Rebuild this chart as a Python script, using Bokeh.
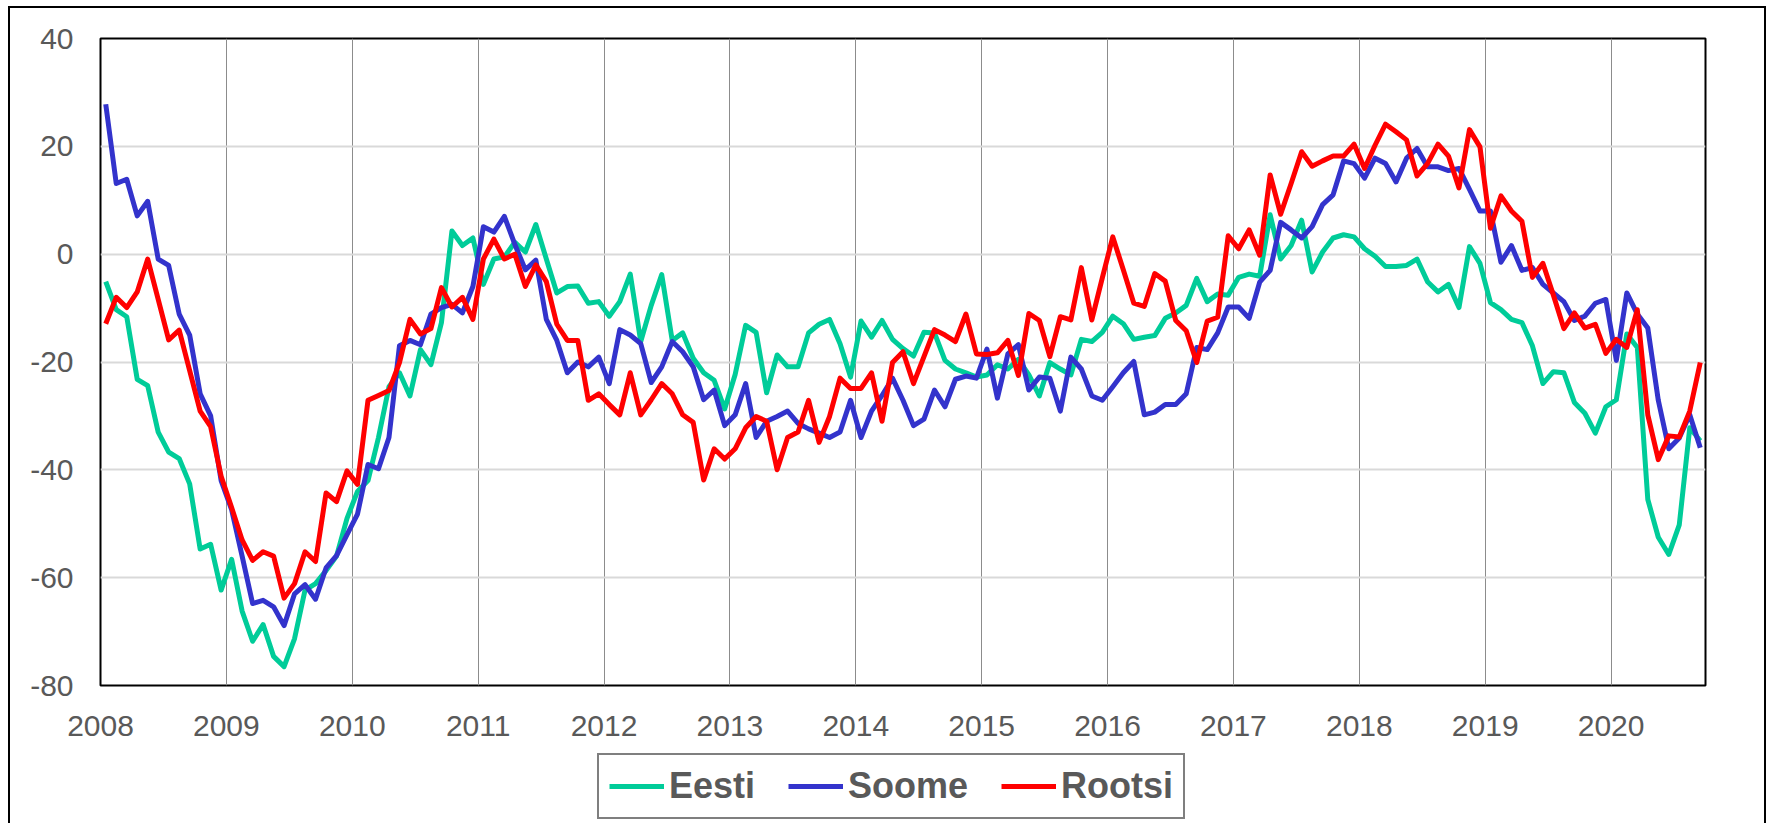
import pandas as pd
from bokeh.plotting import figure
from bokeh.layouts import column
from bokeh.models import Legend, LegendItem, FixedTicker, Range1d, PrintfTickFormatter
from bokeh.embed import file_html
from bokeh.resources import INLINE

months = pd.period_range("2008-01", "2020-09", freq="M")
year_ticks = list(range(2008, 2021))
value_ticks = [-80, -60, -40, -20, 0, 20, 40]
series_names = ["Eesti", "Soome", "Rootsi"]

eesti = [-5.1, -10.3, -11.6, -23.2, -24.4, -33, -36.7, -37.9, -42.6, -54.7, -53.8, -62.3,
         -56.6, -66.2, -71.8, -68.7, -74.6, -76.5, -71.3, -62.3, -61.1, -58.7, -56, -49,
         -44, -42, -34, -24.6, -22, -26.3, -17.7, -20.5, -12.7, 4.3, 1.6, 3,
         -5.6, -0.9, -0.5, 2.2, 0.4, 5.5, -0.9, -7.2, -6, -5.9, -9.1, -8.8,
         -11.5, -8.8, -3.7, -16.2, -9.5, -3.8, -16, -14.6, -19.3, -22, -23.4, -28.7,
         -22.3, -13.2, -14.5, -25.7, -18.7, -20.9, -20.9, -14.6, -13, -12.1, -16.6, -22.8,
         -12.4, -15.4, -12.3, -15.8, -17.5, -18.9, -14.5, -14.6, -19.7, -21.3, -22, -22.8,
         -22.4, -20.5, -21.3, -19.5, -22.4, -26.3, -20.1, -21.3, -22.4, -15.8, -16.2, -14.5,
         -11.5, -12.9, -15.8, -15.4, -15.1, -11.9, -10.9, -9.5, -4.5, -8.8, -7.4, -7.6,
         -4.3, -3.7, -4.1, 7.3, -0.9, 1.6, 6.3, -3.3, 0.4, 3, 3.6, 3.2,
         1, -0.4, -2.3, -2.3, -2.1, -0.9, -5.1, -7, -5.6, -9.9, 1.4, -1.7,
         -9, -10.3, -12.1, -12.7, -17, -24, -21.8, -22, -27.5, -29.5, -33.2, -28.3,
         -27, -14.8, -17.3, -45.5, -52.5, -55.7, -50.2, -32.2, -34.6]

soome = [27.8, 13.1, 13.9, 7.1, 9.8, -0.9, -2.1, -11.1, -15, -25.9, -30, -42,
         -47.4, -56, -64.8, -64.2, -65.4, -68.9, -63, -61.3, -64, -58.2, -55.9, -52,
         -48.2, -39, -39.8, -34, -17, -16, -16.8, -11.1, -9.9, -9.3, -10.9, -6,
         5.1, 4.1, 7, 1.8, -2.9, -1.1, -12.1, -16, -22, -20, -20.9, -19.1,
         -24, -14, -15, -16.6, -23.8, -20.9, -16.2, -18.1, -20.9, -27, -25.2, -31.8,
         -29.8, -24, -34, -31, -30.1, -29.1, -31.4, -32.4, -33.2, -34, -33, -27.1,
         -34, -29.1, -26.2, -23, -27.1, -31.8, -30.6, -25.2, -28.3, -23.2, -22.6, -23,
         -17.6, -26.7, -18.5, -16.8, -25.2, -22.8, -23, -29.1, -19.1, -21.3, -26.3, -27.1,
         -24.6, -22, -19.9, -29.8, -29.3, -27.9, -27.9, -25.9, -17.3, -17.7, -14.6, -9.8,
         -9.8, -11.9, -5.2, -3, 5.9, 4.5, 3, 5.1, 9.2, 11, 17.3, 16.8,
         14.1, 17.8, 16.8, 13.4, 17.8, 19.6, 16.2, 16.2, 15.5, 15.9, 12, 8,
         8, -1.5, 1.6, -3, -2.5, -5.6, -7.2, -8.8, -12.3, -11.5, -9.1, -8.4,
         -19.7, -7.2, -11.1, -13.7, -27.1, -36.1, -34.1, -29.8, -35.9]

rootsi = [-12.9, -8, -9.9, -7, -0.9, -8.4, -15.9, -14.1, -21.6, -29.1, -32, -41.2,
          -47, -53, -56.8, -55.2, -56, -63.8, -61.1, -55.2, -57, -44.3, -45.9, -40.2,
          -42.7, -27.1, -26.2, -25.3, -20.1, -12.1, -14.8, -13.8, -6.2, -9.8, -8, -12.1,
          -0.9, 2.8, -0.9, 0, -6, -2, -5.1, -13, -16, -16, -27.1, -25.9,
          -27.9, -29.8, -22, -29.8, -27, -24, -25.9, -29.8, -31.2, -41.9, -36.1, -38,
          -36.1, -32.2, -30.1, -31, -40, -34, -33, -27.1, -34.9, -30.1, -23, -24.9,
          -24.9, -22, -31, -20.1, -18.1, -24, -19, -14, -15, -16.2, -11.1, -18.5,
          -18.6, -18.3, -16, -22.5, -11, -12.3, -19, -11.6, -12.2, -2.5, -12.2, -4.4,
          3.2, -2.9, -9.1, -9.7, -3.6, -5, -12.3, -14.2, -20.1, -12.4, -11.7, 3.4,
          1, 4.5, -0.2, 14.7, 7.4, 13.1, 19, 16.3, 17.3, 18.2, 18.2, 20.4,
          15.9, 20.2, 24.1, 22.7, 21.2, 14.5, 16.8, 20.4, 18.2, 12.3, 23.1, 19.9,
          4.8, 10.8, 8, 6.1, -4.3, -1.7, -7.6, -13.8, -10.9, -13.7, -13, -18.4,
          -15.8, -17.3, -10.3, -29.8, -38.1, -33.7, -33.9, -29.1, -20.1]

colors = ["#00CC99", "#3333CC", "#FF0000"]

# month centres as fractional years
x = [m.year + (m.month - 0.5) / 12 for m in months]

W = 1754
p = figure(width=W, height=740, output_backend="svg", toolbar_location=None,
           x_range=Range1d(2008, 2020.75), y_range=Range1d(-80, 40),
           min_border_left=90, min_border_top=30, min_border_right=59,
           min_border_bottom=63, background_fill_color="white",
           border_fill_color="white")

p.outline_line_color = "black"
p.outline_line_width = 2

p.xaxis.ticker = FixedTicker(ticks=year_ticks)
p.yaxis.ticker = FixedTicker(ticks=value_ticks)
p.xaxis.formatter = PrintfTickFormatter(format="%d")
p.yaxis.formatter = PrintfTickFormatter(format="%d")
for ax in (p.xaxis, p.yaxis):
    ax.axis_line_color = None
    ax.major_tick_line_color = None
    ax.minor_tick_line_color = None
    ax.major_label_text_font = "Liberation Sans"
    ax.major_label_text_font_size = "30px"
    ax.major_label_text_color = "#595959"
p.xaxis.major_label_standoff = 24
p.yaxis.major_label_standoff = 21

p.xgrid.ticker = FixedTicker(ticks=year_ticks)
p.xgrid.grid_line_color = "#8c8c8c"
p.xgrid.grid_line_width = 1
p.ygrid.ticker = FixedTicker(ticks=value_ticks)
p.ygrid.grid_line_color = "#d9d9d9"
p.ygrid.grid_line_width = 2

for vals, col in zip([eesti, soome, rootsi], colors):
    p.line(x, vals, line_color=col, line_width=5, line_join="round")

# legend strip below the chart (its frame is aligned with the chart frame)
pl = figure(width=W, height=75, output_backend="svg", toolbar_location=None,
            x_range=Range1d(0, 1), y_range=Range1d(0, 1),
            x_axis_type=None, y_axis_type=None,
            min_border_left=0, min_border_right=0, min_border_top=0,
            min_border_bottom=0, background_fill_color="white",
            border_fill_color="white")
pl.outline_line_color = None
pl.xgrid.visible = False
pl.ygrid.visible = False

items = []
for name, col in zip(series_names, colors):
    # stand-in lines outside the visible range, only used for legend glyphs
    r = pl.line([5, 6], [5, 6], line_color=col, line_width=5)
    items.append(LegendItem(label=name, renderers=[r]))

legend = Legend(items=items, orientation="horizontal", location=(497, 4),
                label_text_font="Liberation Sans", label_text_font_style="bold",
                label_text_font_size="36px", label_text_color="#595959",
                border_line_color="black", border_line_width=2,
                glyph_width=55, glyph_height=36, label_height=36,
                label_standoff=5, spacing=33, padding=10, margin=0,
                background_fill_color="white", background_fill_alpha=1)
pl.add_layout(legend)

layout = column(p, pl, spacing=0)
layout.styles = {"border-top": "2px solid black", "border-left": "2px solid black",
                 "border-right": "2px solid black", "margin-left": "8px",
                 "margin-top": "6px"}

open("out.html", "w").write(file_html(layout, INLINE))
